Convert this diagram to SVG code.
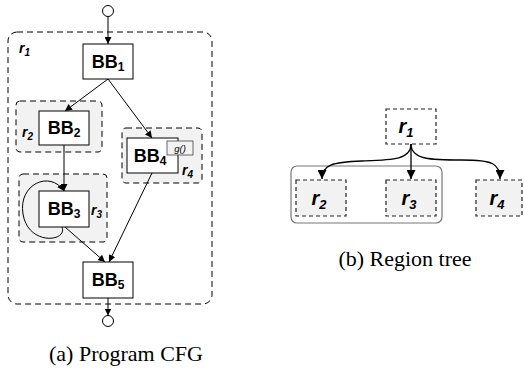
<svg xmlns="http://www.w3.org/2000/svg" width="524" height="368" viewBox="0 0 524 368">
<style>
.bg{fill:#fff}
.region{fill:#f2f2f2;stroke:#000;stroke-width:1;stroke-dasharray:6 4}
.outer{fill:none;stroke:#000;stroke-width:1;stroke-dasharray:6 4}
.bb{fill:#fff;stroke:#000;stroke-width:1}
.bbt{font-family:"Liberation Sans",Arial,sans-serif;font-weight:bold;font-size:18px;fill:#000}
.rl{font-family:"Liberation Sans",Arial,sans-serif;font-weight:bold;font-style:italic;font-size:14px;fill:#000}
.tn{fill:#f2f2f2;stroke:#222;stroke-width:1.2;stroke-dasharray:4 3}
.tl{font-family:"Liberation Sans",Arial,sans-serif;font-weight:bold;font-style:italic;font-size:20px;fill:#000}
.edge{fill:none;stroke:#000;stroke-width:1}
.tedge{fill:none;stroke:#000;stroke-width:1.3}
.cap{font-family:"Liberation Serif","Times New Roman",serif;font-size:22px;fill:#000}
.term{fill:#fff;stroke:#000;stroke-width:1}
</style>
<defs>
<marker id="ah" viewBox="0 0 10 10" refX="10" refY="5" markerWidth="7" markerHeight="7" orient="auto" markerUnits="userSpaceOnUse">
<path d="M0,0 L10,5 L0,10 z" fill="#000"/>
</marker>
<marker id="ah2" viewBox="0 0 10 10" refX="10" refY="5" markerWidth="9" markerHeight="9" orient="auto" markerUnits="userSpaceOnUse">
<path d="M0,0 L10,5 L0,10 z" fill="#000"/>
</marker>
</defs>
<rect class="bg" x="0" y="0" width="524" height="368"/>

<g id="region-r1">
<rect class="outer" x="8" y="32" width="204" height="272" rx="9"/>
<text class="rl" x="19" y="53">r<tspan font-size="10" dy="3">1</tspan></text>
</g>
<g id="region-r2">
<rect class="region" x="16" y="101" width="86" height="51" rx="4"/>
<text class="rl" x="22" y="137">r<tspan font-size="10" dy="3">2</tspan></text>
</g>
<g id="region-r3">
<rect class="region" x="19" y="174" width="88" height="68" rx="4"/>
<text class="rl" x="91" y="215">r<tspan font-size="10" dy="3">3</tspan></text>
</g>
<g id="region-r4">
<rect class="region" x="122" y="128" width="80" height="55" rx="4"/>
<text class="rl" x="182" y="175">r<tspan font-size="10" dy="3">4</tspan></text>
</g>

<g id="entry"><circle class="term" cx="108" cy="11" r="5.5"/></g>
<g id="exit"><circle class="term" cx="108" cy="321" r="5.5"/></g>

<g id="BB1">
<rect class="bb" x="83" y="44" width="50" height="35"/>
<text class="bbt" x="108" y="68" text-anchor="middle">BB<tspan font-size="12" dy="3">1</tspan></text>
</g>
<g id="BB2">
<rect class="bb" x="39" y="111" width="50" height="34"/>
<text class="bbt" x="64" y="134" text-anchor="middle">BB<tspan font-size="12" dy="3">2</tspan></text>
</g>
<g id="BB3">
<rect class="bb" x="39" y="191" width="50" height="36"/>
<text class="bbt" x="64" y="215" text-anchor="middle">BB<tspan font-size="12" dy="3">3</tspan></text>
</g>
<g id="BB4">
<rect class="bb" x="127" y="138" width="51" height="35"/>
<text class="bbt" x="150" y="162" text-anchor="middle">BB<tspan font-size="12" dy="3">4</tspan></text>
<rect x="167" y="141" width="26" height="14" fill="#f2f2f2" stroke="#444" stroke-width="0.8"/>
<text x="180" y="152" text-anchor="middle" font-family="Liberation Sans,Arial,sans-serif" font-style="italic" font-size="9.5">g()</text>
</g>
<g id="BB5">
<rect class="bb" x="83" y="262" width="50" height="36"/>
<text class="bbt" x="108" y="286" text-anchor="middle">BB<tspan font-size="12" dy="3">5</tspan></text>
</g>

<g id="cfg-edges">
<line class="edge" x1="108" y1="16.5" x2="108" y2="44" marker-end="url(#ah)"/>
<line class="edge" x1="108" y1="79" x2="65" y2="111" marker-end="url(#ah)"/>
<line class="edge" x1="108" y1="79" x2="152" y2="138" marker-end="url(#ah)"/>
<line class="edge" x1="64" y1="145" x2="64" y2="191" marker-end="url(#ah)"/>
<path class="edge" d="M62,227 C68,242 28,246 23,214 C18,184 50,170 64,191" marker-end="url(#ah)"/>
<line class="edge" x1="65" y1="227" x2="105" y2="262" marker-end="url(#ah)"/>
<line class="edge" x1="152" y1="173" x2="109" y2="262" marker-end="url(#ah)"/>
<line class="edge" x1="108" y1="298" x2="108" y2="315.5" marker-end="url(#ah)"/>
</g>

<text class="cap" x="49" y="361">(a) Program CFG</text>

<g id="tree-group">
<rect x="291" y="166" width="151" height="57" rx="6" fill="none" stroke="#777" stroke-width="1.2"/>
</g>
<g id="t-r1">
<rect x="386" y="109" width="50" height="35" fill="#fff" stroke="#222" stroke-width="1.2" stroke-dasharray="4 3"/>
<text class="tl" x="406" y="133" text-anchor="middle">r<tspan font-size="13" dy="4">1</tspan></text>
</g>
<g id="t-r2">
<rect class="tn" x="296" y="180" width="50" height="36"/>
<text class="tl" x="319" y="205" text-anchor="middle">r<tspan font-size="13" dy="4">2</tspan></text>
</g>
<g id="t-r3">
<rect class="tn" x="386" y="180" width="50" height="36"/>
<text class="tl" x="409" y="205" text-anchor="middle">r<tspan font-size="13" dy="4">3</tspan></text>
</g>
<g id="t-r4">
<rect class="tn" x="476" y="180" width="46" height="36"/>
<text class="tl" x="497" y="205" text-anchor="middle">r<tspan font-size="13" dy="4">4</tspan></text>
</g>
<g id="tree-edges">
<path class="tedge" d="M411,144 C411,160 392,160 362,161 C332,162 322,165 322,179" marker-end="url(#ah2)"/>
<line class="tedge" x1="411" y1="144" x2="411" y2="179" marker-end="url(#ah2)"/>
<path class="tedge" d="M411,144 C411,160 432,160 462,160 C492,160 500,163 500,179" marker-end="url(#ah2)"/>
</g>

<text class="cap" x="405" y="266" text-anchor="middle">(b) Region tree</text>
</svg>
